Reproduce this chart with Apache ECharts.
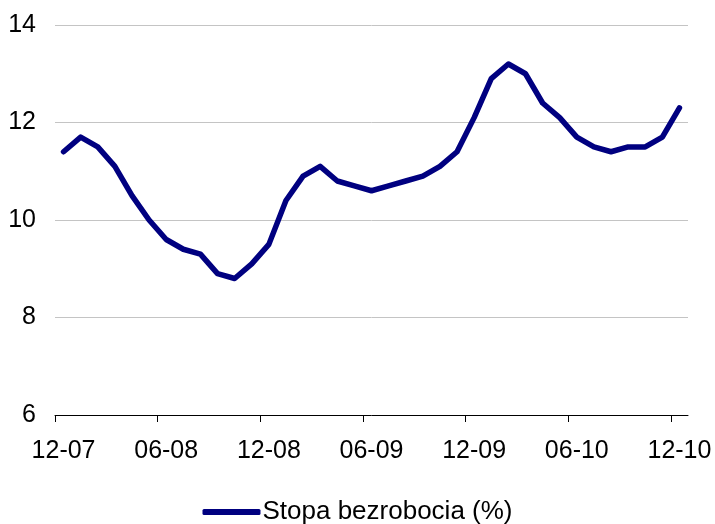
<!DOCTYPE html>
<html>
<head>
<meta charset="utf-8">
<script src="https://cdn.jsdelivr.net/npm/echarts@6/dist/echarts.min.js"></script>
<style>
  html, body { margin: 0; padding: 0; background: #fff; }
  #chart { width: 715px; height: 524px; }
</style>
</head>
<body>
<div id="chart"></div>
<script>
// Monthly periods, MM-YY
const months = [
  '12-07', '01-08', '02-08', '03-08', '04-08', '05-08', '06-08', '07-08', '08-08', '09-08', '10-08', '11-08',
  '12-08', '01-09', '02-09', '03-09', '04-09', '05-09', '06-09', '07-09', '08-09', '09-09', '10-09', '11-09',
  '12-09', '01-10', '02-10', '03-10', '04-10', '05-10', '06-10', '07-10', '08-10', '09-10', '10-10', '11-10',
  '12-10'
];

// Unemployment rate, %
const unemploymentRate = [
  11.4, 11.7, 11.5, 11.1, 10.5, 10.0, 9.6, 9.4, 9.3, 8.9, 8.8, 9.1,
  9.5, 10.4, 10.9, 11.1, 10.8, 10.7, 10.6, 10.7, 10.8, 10.9, 11.1, 11.4,
  12.1, 12.9, 13.2, 13.0, 12.4, 12.1, 11.7, 11.5, 11.4, 11.5, 11.5, 11.7,
  12.3
];

const seriesName = 'Stopa bezrobocia (%)';
const yTicks = [6, 8, 10, 12, 14];

// Tick marks sit on the boundaries before every sixth month
const tickBoundaries = months.map((m, i) => i).filter(i => i % 6 === 0);

const font = '"Liberation Sans", Arial, Helvetica, sans-serif';

const chart = echarts.init(document.getElementById('chart'), null, { renderer: 'canvas' });

chart.setOption({
  animation: false,
  backgroundColor: '#ffffff',
  grid: { left: 55, right: 27, top: 25, bottom: 109, containLabel: false },
  xAxis: [
    {
      type: 'category',
      data: months,
      boundaryGap: true,
      axisLine: { show: true, lineStyle: { color: '#000', width: 1 } },
      axisTick: { show: false },
      axisLabel: {
        interval: 5,
        margin: 24,
        color: '#000',
        fontFamily: font,
        fontSize: 25
      },
      splitLine: { show: false }
    },
    {
      // tick marks only, placed on month boundaries
      type: 'value',
      position: 'bottom',
      min: 0,
      max: months.length,
      axisLine: { show: false },
      axisTick: {
        show: true,
        length: 7,
        customValues: tickBoundaries,
        lineStyle: { color: '#000', width: 1 }
      },
      axisLabel: { show: false },
      splitLine: { show: false }
    }
  ],
  yAxis: {
    type: 'value',
    min: yTicks[0],
    max: yTicks[yTicks.length - 1],
    interval: 2,
    axisLine: { show: false },
    axisTick: { show: false },
    axisLabel: {
      margin: 19,
      color: '#000',
      fontFamily: font,
      fontSize: 25
    },
    splitLine: { show: true, lineStyle: { color: '#c4c4c4', width: 1 } }
  },
  legend: {
    show: true,
    top: 494,
    left: 'center',
    icon: 'roundRect',
    itemWidth: 58,
    itemHeight: 6,
    itemGap: 10,
    textStyle: { color: '#000', fontFamily: font, fontSize: 26, padding: [0, 0, 0, -3] },
    data: [seriesName]
  },
  series: [
    {
      name: seriesName,
      type: 'line',
      xAxisIndex: 0,
      data: unemploymentRate,
      smooth: false,
      showSymbol: false,
      symbol: 'none',
      color: '#000080',
      lineStyle: { color: '#000080', width: 5.5, cap: 'round', join: 'round' }
    }
  ]
});
</script>
</body>
</html>
